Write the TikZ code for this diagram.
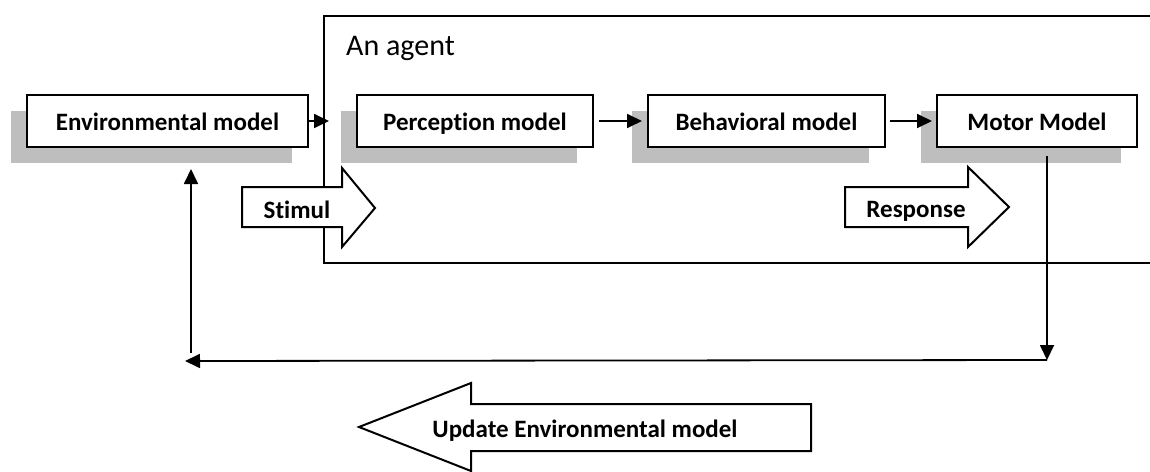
\documentclass[tikz,border=0pt]{standalone}
\usepackage{fontspec}
\setmainfont[Ligatures=NoCommon]{Carlito}
\usetikzlibrary{arrows.meta,shadows}
\definecolor{shadowgray}{RGB}{190,190,190}
\tikzset{
  modelbox/.style={draw=black, line width=2pt, fill=white, minimum height=52pt,
    inner sep=0pt, text height=22pt, text depth=4pt,
    font=\fontsize{25}{30}\selectfont\bfseries,
    drop shadow={shadow xshift=-16pt, shadow yshift=-16pt, fill=shadowgray, opacity=1}},
  arr/.style={line width=1.8pt, -{Triangle[length=15pt,width=14pt]}},
  blockarrow/.style={draw=black, line width=2pt, fill=white, line join=miter},
  blocklabel/.style={font=\fontsize{25}{30}\selectfont\bfseries, inner sep=0pt,
    text height=22pt, text depth=4pt},
  frameline/.style={line width=2pt}
}
\begin{document}
\begin{tikzpicture}[x=1pt,y=-1pt]
\useasboundingbox[fill=white] (0,0) rectangle (1150,471);
% agent frame
\draw[frameline] (1160,16) -- (324,16) -- (324,263) -- (1160,263);
\node[font=\fontsize{30}{36}\selectfont, anchor=west, inner sep=0pt] (agent) at (346,48) {An agent};
% boxes
\node[modelbox, minimum width=281pt] (env) at (167.5,121) {Environmental model};
\node[modelbox, minimum width=236pt] (perc) at (475,121) {Perception model};
\node[modelbox, minimum width=237pt] (beh) at (766.5,121) {Behavioral model};
\node[modelbox, minimum width=200pt] (motor) at (1037,121) {Motor Model};
% block arrows
\draw[blockarrow] (242,187) -- (342,187) -- (342,168) -- (375,208) -- (342,247) -- (342,227) -- (242,227) -- cycle;
\node[blocklabel] (stimul) at (297,209) {Stimul};
\draw[blockarrow] (845,187) -- (968,187) -- (968,167) -- (1009,207) -- (968,247) -- (968,227) -- (845,227) -- cycle;
\node[blocklabel] (response) at (916,208) {Response};
\draw[blockarrow] (811,404) -- (471,404) -- (471,383) -- (359,427) -- (471,471) -- (471,451) -- (811,451) -- cycle;
\node[blocklabel] (update) at (585,428) {Update Environmental model};
% connectors
\coordinate (ea) at (329,121);
\coordinate (c1) at (1047,360);
\coordinate (c2) at (185,361);
\coordinate (c3) at (191,353);
\draw[arr] (env.east) -- (ea);
\draw[arr, shorten <=5pt, shorten >=5pt] (perc.east) -- (beh.west);
\draw[arr, shorten <=4pt, shorten >=4pt] (beh.east) -- (motor.west);
\draw[arr, shorten <=8pt] (motor.south -| c1) -- (c1);
\draw[arr] (c1) -- (c2);
\draw[arr, shorten >=21pt] (c3) -- (env.south -| c3);
\end{tikzpicture}
\end{document}
